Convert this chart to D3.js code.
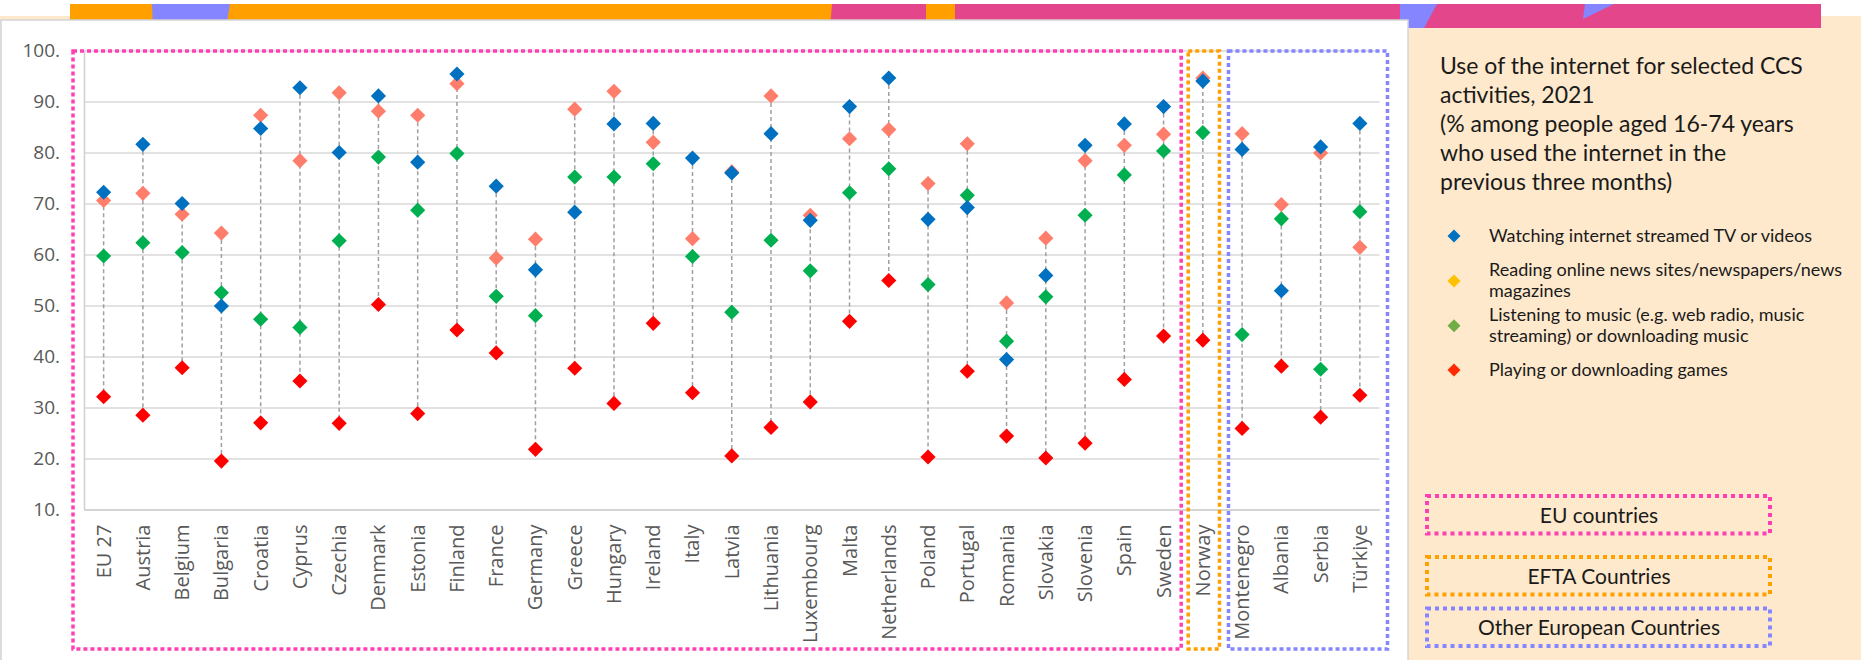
<!DOCTYPE html>
<html>
<head>
<meta charset="utf-8">
<script src="https://cdn.jsdelivr.net/npm/d3@7"></script>
<style>
  html, body { margin: 0; padding: 0; background: #fff; }
  svg { display: block; }
</style>
</head>
<body>
<div id="chart"></div>
<script>
// Countries on the x axis
const countries = ["EU 27", "Austria", "Belgium", "Bulgaria", "Croatia", "Cyprus", "Czechia", "Denmark",
  "Estonia", "Finland", "France", "Germany", "Greece", "Hungary", "Ireland", "Italy", "Latvia",
  "Lithuania", "Luxembourg", "Malta", "Netherlands", "Poland", "Portugal", "Romania", "Slovakia",
  "Slovenia", "Spain", "Sweden", "Norway", "Montenegro", "Albania", "Serbia", "Türkiye"];

// Series values (% of internet users)
const tvVideos = [72.2, 81.6, 70.0, 49.9, 84.7, 92.7, 80.0, 91.1, 78.1, 95.4, 73.4, 57.0, 68.3, 85.6, 85.7, 78.9, 76.0,
  83.7, 66.7, 89.0, 94.6, 66.9, 69.2, 39.4, 55.9, 81.4, 85.6, 89.0, 94.0, 80.6, 52.9, 81.1, 85.7];
const news = [70.6, 72.0, 67.9, 64.2, 87.3, 78.4, 91.7, 88.1, 87.3, 93.5, 59.3, 63.0, 88.5, 92.0, 82.0, 63.1, 76.2,
  91.1, 67.7, 82.7, 84.5, 73.9, 81.7, 50.5, 63.2, 78.4, 81.4, 83.6, 94.6, 83.7, 69.8, 79.9, 61.4];
const music = [59.7, 62.3, 60.4, 52.5, 47.3, 45.7, 62.7, 79.1, 68.7, 79.8, 51.8, 48.0, 75.2, 75.2, 77.8, 59.6, 48.7,
  62.8, 56.8, 72.1, 76.8, 54.1, 71.6, 43.0, 51.7, 67.7, 75.6, 80.3, 83.9, 44.3, 67.0, 37.5, 68.4];
const games = [32.1, 28.5, 37.8, 19.5, 27.0, 35.2, 26.9, 50.2, 28.8, 45.2, 40.7, 21.8, 37.7, 30.8, 46.5, 32.9, 20.5,
  26.1, 31.1, 46.9, 54.9, 20.3, 37.1, 24.4, 20.1, 23.0, 35.5, 44.0, 43.2, 25.9, 38.1, 28.1, 32.4];

// Y axis ticks
const yTicks = [10, 20, 30, 40, 50, 60, 70, 80, 90, 100];

// Legend
const legendLines = [
  ["Watching internet streamed TV or videos"],
  ["Reading online news sites/newspapers/news", "magazines"],
  ["Listening to music (e.g. web radio, music", "streaming) or downloading music"],
  ["Playing or downloading games"]
];
const legendColors = ["#0070c0", "#ffc000", "#70ad47", "#ff2a00"];
const titleLines = ["Use of the internet for selected CCS", "activities, 2021",
  "(% among people aged 16-74 years", "who used the internet in the", "previous three months)"];

// Country groups
const groupNames = ["EU countries", "EFTA Countries", "Other European Countries"];
const groupFirst = ["EU 27", "Norway", "Montenegro"];
const groupLast = ["Sweden", "Norway", "Türkiye"];
const groupColors = ["#ff40b4", "#ff9f00", "#8585ff"];

const width = 1861;
const height = 660;

const svg = d3.select('#chart')
  .append('svg')
  .attr('width', width)
  .attr('height', height);

// fondo beige y banda de colores arriba
svg.append('rect')
  .attr('x', 0).attr('y', 16)
  .attr('width', width).attr('height', height - 16)
  .attr('fill', '#fee9cc');

svg.append('rect')
  .attr('x', 70).attr('y', 4)
  .attr('width', 1751).attr('height', 24)
  .attr('fill', '#ffa000');

const stripeShapes = [
  { c: '#8585ff', p: [[152, 4], [230, 4], [226, 28], [153, 28]] },
  { c: '#e4468c', p: [[832, 4], [926, 4], [926, 28], [830, 28]] },
  { c: '#e4468c', p: [[955, 4], [1821, 4], [1821, 28], [955, 28]] },
  { c: '#8585ff', p: [[1400, 4], [1437, 4], [1424, 28], [1400, 28]] },
  { c: '#8585ff', p: [[1585, 4], [1614, 4], [1583, 19]] }
];
svg.selectAll('polygon.stripe')
  .data(stripeShapes)
  .enter()
  .append('polygon')
  .attr('class', 'stripe')
  .attr('points', d => d.p.map(q => q.join(',')).join(' '))
  .attr('fill', d => d.c);

// panel blanco del gráfico
svg.append('rect')
  .attr('x', 1).attr('y', 20)
  .attr('width', 1407).attr('height', 660)
  .attr('fill', '#fff')
  .attr('stroke', '#d4d4d4')
  .attr('stroke-width', 1.5);

// escalas
const x = d3.scaleBand()
  .domain(countries)
  .range([84, 1379.5]);

const y = d3.scaleLinear()
  .domain([10, 100])
  .range([509.5, 50.5]);

// rejilla
svg.append('g')
  .attr('transform', 'translate(84,0)')
  .call(d3.axisLeft(y).tickValues(yTicks).tickSize(-(1379.5 - 84)).tickFormat(''))
  .call(g => g.select('.domain').remove())
  .call(g => g.selectAll('line').attr('stroke', '#d9d9d9').attr('stroke-width', 1.5));

// eje Y
svg.append('g')
  .attr('transform', 'translate(84,0)')
  .call(d3.axisLeft(y).tickValues(yTicks).tickSize(0).tickPadding(24).tickFormat(d => d + '.'))
  .call(g => g.select('.domain').attr('stroke', '#d0d0d0').attr('stroke-width', 1.5))
  .call(g => g.selectAll('text')
    .attr('fill', '#595959')
    .style('font-family', '"Open Sans", sans-serif')
    .style('font-size', '19px'));

// eje X
svg.append('g')
  .attr('transform', `translate(0,${y(10)})`)
  .call(d3.axisBottom(x).tickSize(0))
  .call(g => g.select('.domain').attr('stroke', '#d0d0d0').attr('stroke-width', 1.5))
  .call(g => g.selectAll('text')
    .attr('transform', 'rotate(-90)')
    .attr('x', -15)
    .attr('y', 0)
    .attr('dy', '0.35em')
    .attr('text-anchor', 'end')
    .attr('fill', '#595959')
    .style('font-family', '"Open Sans", sans-serif')
    .style('font-size', '20px'));

// líneas discontinuas entre el mínimo y el máximo
const rows = countries.map((c, i) => ({
  country: c,
  vals: [tvVideos[i], news[i], music[i], games[i]]
}));

svg.selectAll('line.drop')
  .data(rows)
  .enter()
  .append('line')
  .attr('class', 'drop')
  .attr('x1', d => x(d.country) + x.bandwidth() / 2)
  .attr('x2', d => x(d.country) + x.bandwidth() / 2)
  .attr('y1', d => y(d3.max(d.vals)))
  .attr('y2', d => y(d3.min(d.vals)))
  .attr('stroke', '#a0a0a0')
  .attr('stroke-width', 1.5)
  .attr('stroke-dasharray', '4,3');

// rombos (orden de dibujo: noticias, música, juegos, vídeos)
const diamond = d3.symbol().type(d3.symbolSquare).size(115);
const seriesDraw = [
  { values: news, color: '#ff7d6b' },
  { values: music, color: '#00b050' },
  { values: games, color: '#ff0000' },
  { values: tvVideos, color: '#0070c0' }
];
seriesDraw.forEach(s => {
  svg.append('g')
    .selectAll('path')
    .data(countries)
    .enter()
    .append('path')
    .attr('d', diamond)
    .attr('transform', (c, i) => `translate(${x(c) + x.bandwidth() / 2},${y(s.values[i])}) rotate(45)`)
    .attr('fill', s.color);
});

// recuadros punteados de grupos
const boxPad = [[-11, -2], [5, -3], [6, 8]];
groupNames.forEach((name, i) => {
  const x0 = x(groupFirst[i]) + boxPad[i][0];
  const x1 = x(groupLast[i]) + x.bandwidth() + boxPad[i][1];
  svg.append('rect')
    .attr('x', x0).attr('y', 51)
    .attr('width', x1 - x0).attr('height', 598)
    .attr('fill', 'none')
    .attr('stroke', groupColors[i])
    .attr('stroke-width', 3.5)
    .attr('stroke-dasharray', '4,3');
});

// panel derecho: título
const title = svg.append('text')
  .attr('x', 1440)
  .attr('y', 74)
  .attr('fill', '#1a1a1a')
  .style('font-family', 'Lato, sans-serif')
  .style('font-size', '23px');
title.selectAll('tspan')
  .data(titleLines)
  .enter()
  .append('tspan')
  .attr('x', 1440)
  .attr('dy', (d, i) => i === 0 ? 0 : 28.9)
  .text(d => d);

// leyenda de series
const legendY = [236, 281, 325.7, 370];
const legendSymbol = d3.symbol().type(d3.symbolSquare).size(85);
legendLines.forEach((lines, i) => {
  svg.append('path')
    .attr('d', legendSymbol)
    .attr('transform', `translate(1454,${legendY[i]}) rotate(45)`)
    .attr('fill', legendColors[i]);
  const top = legendY[i] + 5.7 - (lines.length - 1) * 10.5;
  svg.append('text')
    .attr('fill', '#1a1a1a')
    .style('font-family', 'Lato, sans-serif')
    .style('font-size', '18px')
    .selectAll('tspan')
    .data(lines)
    .enter()
    .append('tspan')
    .attr('x', 1489)
    .attr('y', (d, j) => top + j * 21)
    .text(d => d);
});

// leyenda de grupos
const boxY = [496, 557, 608.5];
groupNames.forEach((name, i) => {
  svg.append('rect')
    .attr('x', 1427).attr('y', boxY[i])
    .attr('width', 343).attr('height', 37.5)
    .attr('fill', 'none')
    .attr('stroke', groupColors[i])
    .attr('stroke-width', 4)
    .attr('stroke-dasharray', '4,4');
  svg.append('text')
    .attr('x', 1599)
    .attr('y', boxY[i] + 26.5)
    .attr('text-anchor', 'middle')
    .attr('fill', '#1a1a1a')
    .style('font-family', 'Lato, sans-serif')
    .style('font-size', '21px')
    .text(name);
});
</script>
</body>
</html>
